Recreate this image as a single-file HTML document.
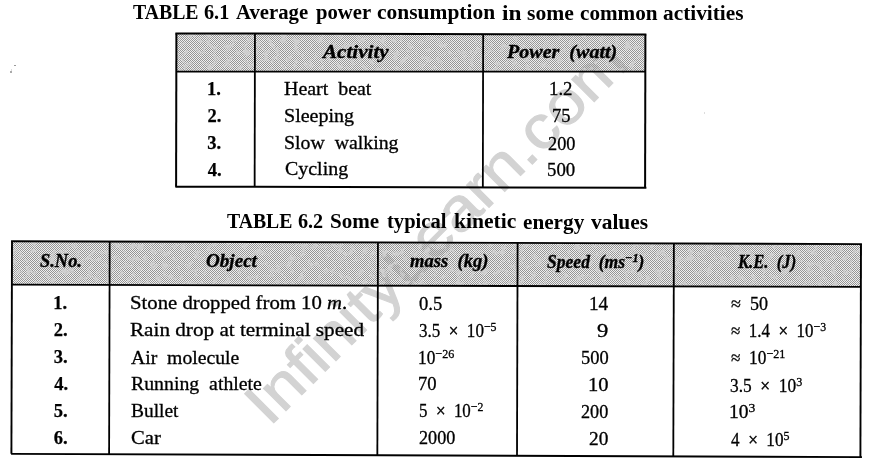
<!DOCTYPE html>
<html><head><meta charset="utf-8"><style>
html,body{margin:0;padding:0;background:#fff}
body{width:880px;height:469px;overflow:hidden;position:relative}
#tx{position:absolute;left:0;top:0;width:880px;height:469px;filter:grayscale(1)}
svg{position:absolute;left:0;top:0}
.t{position:absolute;white-space:nowrap;font-family:"Liberation Serif",serif;line-height:1;color:#000}
.t sup{font-size:0.7em;vertical-align:6px;line-height:0}
.r{font-weight:400;font-style:normal;-webkit-text-stroke:0.3px #000}.b{font-weight:700;font-style:normal}.i{font-weight:400;font-style:italic}.bi{font-weight:700;font-style:italic;-webkit-text-stroke:0.35px #000}.b{-webkit-text-stroke:0.25px #000}.bt{font-weight:700;font-style:normal}
</style></head><body>
<svg width="880" height="469" viewBox="0 0 880 469">
<defs><pattern id="chk" patternUnits="userSpaceOnUse" width="2" height="2"><rect width="2" height="2" fill="#f0f0f0"/><rect width="1" height="1" fill="#949494"/><rect x="1" y="1" width="1" height="1" fill="#949494"/></pattern>
<filter id="mot" x="0" y="0" width="100%" height="100%" filterUnits="objectBoundingBox" color-interpolation-filters="sRGB">
<feTurbulence type="fractalNoise" baseFrequency="0.16" numOctaves="3" seed="7" result="n"/>
<feColorMatrix in="n" type="matrix" values="0 0 0 0 0.81  0 0 0 0 0.81  0 0 0 0 0.81  5 0 0 0 -2.6" result="fl"/>
<feComposite in="fl" in2="SourceAlpha" operator="in" result="fl2"/>
<feComposite in="fl2" in2="SourceGraphic" operator="over"/>
</filter></defs>
<g filter="url(#mot)"><polygon points="176.40,33.40 645.40,34.62 645.32,71.60 176.32,71.60" fill="url(#chk)"/><polygon points="12.00,241.25 861.00,244.10 860.87,286.91 11.88,284.70" fill="url(#chk)"/></g>
<text x="0" y="0" transform="translate(269.62 427.30) rotate(-45.07) scale(1.119 1)" font-family="Liberation Sans" font-size="60" fill="#d3d3d3" style="mix-blend-mode:darken" stroke="#d3d3d3" stroke-width="1.0">InfinityLearn.com</text>
<g stroke="#000"><line x1="175.40" y1="33.40" x2="646.40" y2="34.62" stroke-width="2.00"/><line x1="175.40" y1="186.65" x2="646.40" y2="187.82" stroke-width="2.00"/><line x1="176.40" y1="71.60" x2="645.40" y2="71.60" stroke-width="1.80"/><line x1="176.40" y1="33.40" x2="176.09" y2="186.65" stroke-width="2.00"/><line x1="254.95" y1="33.60" x2="254.64" y2="186.85" stroke-width="1.80"/><line x1="483.15" y1="34.20" x2="482.84" y2="187.42" stroke-width="1.80"/><line x1="645.40" y1="34.62" x2="645.09" y2="187.82" stroke-width="2.00"/><line x1="11.05" y1="241.25" x2="861.95" y2="244.10" stroke-width="1.90"/><line x1="11.05" y1="453.85" x2="861.95" y2="457.16" stroke-width="1.90"/><line x1="12.00" y1="284.70" x2="861.00" y2="286.91" stroke-width="1.80"/><line x1="12.00" y1="241.25" x2="11.40" y2="453.85" stroke-width="1.90"/><line x1="109.70" y1="241.58" x2="109.10" y2="454.23" stroke-width="1.80"/><line x1="377.95" y1="242.48" x2="377.35" y2="455.28" stroke-width="1.80"/><line x1="517.60" y1="242.95" x2="517.00" y2="455.82" stroke-width="1.80"/><line x1="673.89" y1="243.47" x2="673.30" y2="456.43" stroke-width="1.80"/><line x1="860.99" y1="244.10" x2="860.40" y2="457.16" stroke-width="1.90"/></g>
<g fill="#999"><rect x="14" y="65" width="2" height="1"/><rect x="10" y="71" width="2" height="2" fill="#aaa"/><rect x="11" y="69" width="1" height="2" fill="#ddd"/><rect x="704" y="112" width="1" height="2" fill="#ddd"/></g>
</svg>
<div id="tx">
<div class="t bi" style="left:322.94px;top:43.00px;font-size:18.5px;transform:scaleX(1.1424);transform-origin:0 0">Activity</div>
<div class="t bi" style="left:506.60px;top:43.20px;font-size:18.5px;transform:scaleX(1.0832);transform-origin:0 0">Power&nbsp; (watt)</div>
<div class="t b" style="left:206.95px;top:80.00px;font-size:18.5px;transform:scaleX(1.0000);transform-origin:0 0">1.</div>
<div class="t b" style="left:207.45px;top:106.90px;font-size:18.5px;transform:scaleX(1.0000);transform-origin:0 0">2.</div>
<div class="t b" style="left:207.35px;top:133.50px;font-size:18.5px;transform:scaleX(1.0000);transform-origin:0 0">3.</div>
<div class="t b" style="left:207.65px;top:160.50px;font-size:18.5px;transform:scaleX(1.0000);transform-origin:0 0">4.</div>
<div class="t r" style="left:284.45px;top:78.90px;font-size:19px;transform:scaleX(1.0488);transform-origin:0 0">Heart&nbsp; beat</div>
<div class="t r" style="left:284.15px;top:105.80px;font-size:19px;transform:scaleX(1.0538);transform-origin:0 0">Sleeping</div>
<div class="t r" style="left:284.16px;top:132.60px;font-size:19px;transform:scaleX(1.0426);transform-origin:0 0">Slow&nbsp; walking</div>
<div class="t r" style="left:284.95px;top:159.40px;font-size:19px;transform:scaleX(1.0492);transform-origin:0 0">Cycling</div>
<div class="t r" style="left:549.22px;top:79.10px;font-size:19px;transform:scaleX(0.9905);transform-origin:0 0">1.2</div>
<div class="t r" style="left:552.32px;top:106.30px;font-size:19px;transform:scaleX(0.9765);transform-origin:0 0">75</div>
<div class="t r" style="left:547.74px;top:133.60px;font-size:19px;transform:scaleX(0.9630);transform-origin:0 0">200</div>
<div class="t r" style="left:547.01px;top:160.30px;font-size:19px;transform:scaleX(0.9889);transform-origin:0 0">500</div>
<div class="t bi" style="left:40.00px;top:252.00px;font-size:18.5px;transform:scaleX(0.9951);transform-origin:0 0">S.No.</div>
<div class="t bi" style="left:205.87px;top:252.00px;font-size:18.5px;transform:scaleX(1.0327);transform-origin:0 0">Object</div>
<div class="t bi" style="left:410.20px;top:252.30px;font-size:18.5px;transform:scaleX(1.0039);transform-origin:0 0">mass&nbsp; (kg)</div>
<div class="t bi" style="left:547.00px;top:252.50px;font-size:18.5px;transform:scaleX(0.9490);transform-origin:0 0">Speed&nbsp; (ms<sup class="hs">&minus;1</sup>)</div>
<div class="t bi" style="left:738.40px;top:253.30px;font-size:18.5px;transform:scaleX(0.8984);transform-origin:0 0">K.E.&nbsp; (J)</div>
<div class="t b" style="left:53.30px;top:294.00px;font-size:18.5px;transform:scaleX(1.0000);transform-origin:0 0">1.</div>
<div class="t b" style="left:53.80px;top:321.30px;font-size:18.5px;transform:scaleX(1.0000);transform-origin:0 0">2.</div>
<div class="t b" style="left:53.80px;top:348.20px;font-size:18.5px;transform:scaleX(1.0000);transform-origin:0 0">3.</div>
<div class="t b" style="left:54.30px;top:375.00px;font-size:18.5px;transform:scaleX(1.0000);transform-origin:0 0">4.</div>
<div class="t b" style="left:53.80px;top:401.80px;font-size:18.5px;transform:scaleX(1.0000);transform-origin:0 0">5.</div>
<div class="t b" style="left:53.80px;top:428.70px;font-size:18.5px;transform:scaleX(1.0000);transform-origin:0 0">6.</div>
<div class="t r" style="left:130.31px;top:293.40px;font-size:19px;transform:scaleX(1.0919);transform-origin:0 0">Stone dropped from 10 <i>m</i>.</div>
<div class="t r" style="left:130.29px;top:320.20px;font-size:19px;transform:scaleX(1.1144);transform-origin:0 0">Rain drop at terminal speed</div>
<div class="t r" style="left:130.76px;top:347.60px;font-size:19px;transform:scaleX(1.0359);transform-origin:0 0">Air&nbsp; molecule</div>
<div class="t r" style="left:130.76px;top:374.00px;font-size:19px;transform:scaleX(1.0419);transform-origin:0 0">Running&nbsp; athlete</div>
<div class="t r" style="left:130.78px;top:400.80px;font-size:19px;transform:scaleX(1.0222);transform-origin:0 0">Bullet</div>
<div class="t r" style="left:130.72px;top:427.70px;font-size:19px;transform:scaleX(1.0846);transform-origin:0 0">Car</div>
<div class="t r" style="left:418.92px;top:293.80px;font-size:19px;transform:scaleX(0.9773);transform-origin:0 0">0.5</div>
<div class="t r" style="left:419.00px;top:320.60px;font-size:19px;transform:scaleX(0.8953);transform-origin:0 0">3.5&nbsp; <span style="-webkit-text-stroke:0.45px #000">&times;</span>&nbsp; 10<sup>&minus;5</sup></div>
<div class="t r" style="left:418.08px;top:347.50px;font-size:19px;transform:scaleX(0.9105);transform-origin:0 0">10<sup>&minus;26</sup></div>
<div class="t r" style="left:418.32px;top:374.20px;font-size:19px;transform:scaleX(0.9824);transform-origin:0 0">70</div>
<div class="t r" style="left:418.61px;top:401.00px;font-size:19px;transform:scaleX(0.8901);transform-origin:0 0">5&nbsp; <span style="-webkit-text-stroke:0.45px #000">&times;</span>&nbsp; 10<sup>&minus;2</sup></div>
<div class="t r" style="left:418.54px;top:427.90px;font-size:19px;transform:scaleX(0.9556);transform-origin:0 0">2000</div>
<div class="t r" style="left:588.88px;top:294.20px;font-size:19px;transform:scaleX(1.0118);transform-origin:0 0">14</div>
<div class="t r" style="left:597.31px;top:320.70px;font-size:19px;transform:scaleX(1.1875);transform-origin:0 0">9</div>
<div class="t r" style="left:580.83px;top:347.90px;font-size:19px;transform:scaleX(0.9704);transform-origin:0 0">500</div>
<div class="t r" style="left:588.14px;top:374.70px;font-size:19px;transform:scaleX(1.0813);transform-origin:0 0">10</div>
<div class="t r" style="left:580.84px;top:401.60px;font-size:19px;transform:scaleX(0.9556);transform-origin:0 0">200</div>
<div class="t r" style="left:589.28px;top:428.50px;font-size:19px;transform:scaleX(1.0176);transform-origin:0 0">20</div>
<div class="t r" style="left:730.95px;top:294.20px;font-size:19px;transform:scaleX(0.9486);transform-origin:0 0">&asymp;&nbsp; 50</div>
<div class="t r" style="left:731.01px;top:321.00px;font-size:19px;transform:scaleX(0.8924);transform-origin:0 0">&asymp;&nbsp; 1.4&nbsp; <span style="-webkit-text-stroke:0.45px #000">&times;</span>&nbsp; 10<sup>&minus;3</sup></div>
<div class="t r" style="left:730.99px;top:347.90px;font-size:19px;transform:scaleX(0.9088);transform-origin:0 0">&asymp;&nbsp; 10<sup>&minus;21</sup></div>
<div class="t r" style="left:730.09px;top:375.50px;font-size:19px;transform:scaleX(0.9128);transform-origin:0 0">3.5&nbsp; <span style="-webkit-text-stroke:0.45px #000">&times;</span>&nbsp; 10<sup>3</sup></div>
<div class="t r" style="left:729.45px;top:402.40px;font-size:19px;transform:scaleX(1.0261);transform-origin:0 0">10<sup>3</sup></div>
<div class="t r" style="left:731.00px;top:429.80px;font-size:19px;transform:scaleX(0.9016);transform-origin:0 0">4&nbsp; <span style="-webkit-text-stroke:0.45px #000">&times;</span>&nbsp; 10<sup>5</sup></div>
<div class="t bt" style="left:132.70px;top:1.50px;font-size:20.5px;transform:scaleX(0.9642);transform-origin:0 0">TABLE</div>
<div class="t bt" style="left:203.51px;top:1.72px;font-size:20.5px;transform:scaleX(0.9875);transform-origin:0 0">6.1</div>
<div class="t bt" style="left:236.40px;top:1.81px;font-size:20.5px;transform:scaleX(1.0113);transform-origin:0 0">Average</div>
<div class="t bt" style="left:316.40px;top:2.05px;font-size:20.5px;transform:scaleX(1.0093);transform-origin:0 0">power</div>
<div class="t bt" style="left:377.15px;top:2.24px;font-size:20.5px;transform:scaleX(1.0473);transform-origin:0 0">consumption</div>
<div class="t bt" style="left:501.56px;top:2.61px;font-size:20.5px;transform:scaleX(1.1375);transform-origin:0 0">in</div>
<div class="t bt" style="left:527.14px;top:2.69px;font-size:20.5px;transform:scaleX(1.0558);transform-origin:0 0">some</div>
<div class="t bt" style="left:579.87px;top:2.84px;font-size:20.5px;transform:scaleX(1.0324);transform-origin:0 0">common</div>
<div class="t bt" style="left:663.46px;top:3.10px;font-size:20.5px;transform:scaleX(1.0408);transform-origin:0 0">activities</div>
<div class="t bt" style="left:227.30px;top:210.70px;font-size:20.5px;transform:scaleX(0.9627);transform-origin:0 0">TABLE</div>
<div class="t bt" style="left:298.12px;top:210.92px;font-size:20.5px;transform:scaleX(0.9833);transform-origin:0 0">6.2</div>
<div class="t bt" style="left:329.87px;top:211.01px;font-size:20.5px;transform:scaleX(1.0283);transform-origin:0 0">Some</div>
<div class="t bt" style="left:387.20px;top:211.18px;font-size:20.5px;transform:scaleX(1.0034);transform-origin:0 0">typical</div>
<div class="t bt" style="left:454.45px;top:211.38px;font-size:20.5px;transform:scaleX(1.0526);transform-origin:0 0">kinetic</div>
<div class="t bt" style="left:522.57px;top:211.59px;font-size:20.5px;transform:scaleX(1.0345);transform-origin:0 0">energy</div>
<div class="t bt" style="left:590.90px;top:211.79px;font-size:20.5px;transform:scaleX(1.0444);transform-origin:0 0">values</div>
</div>
</body></html>
